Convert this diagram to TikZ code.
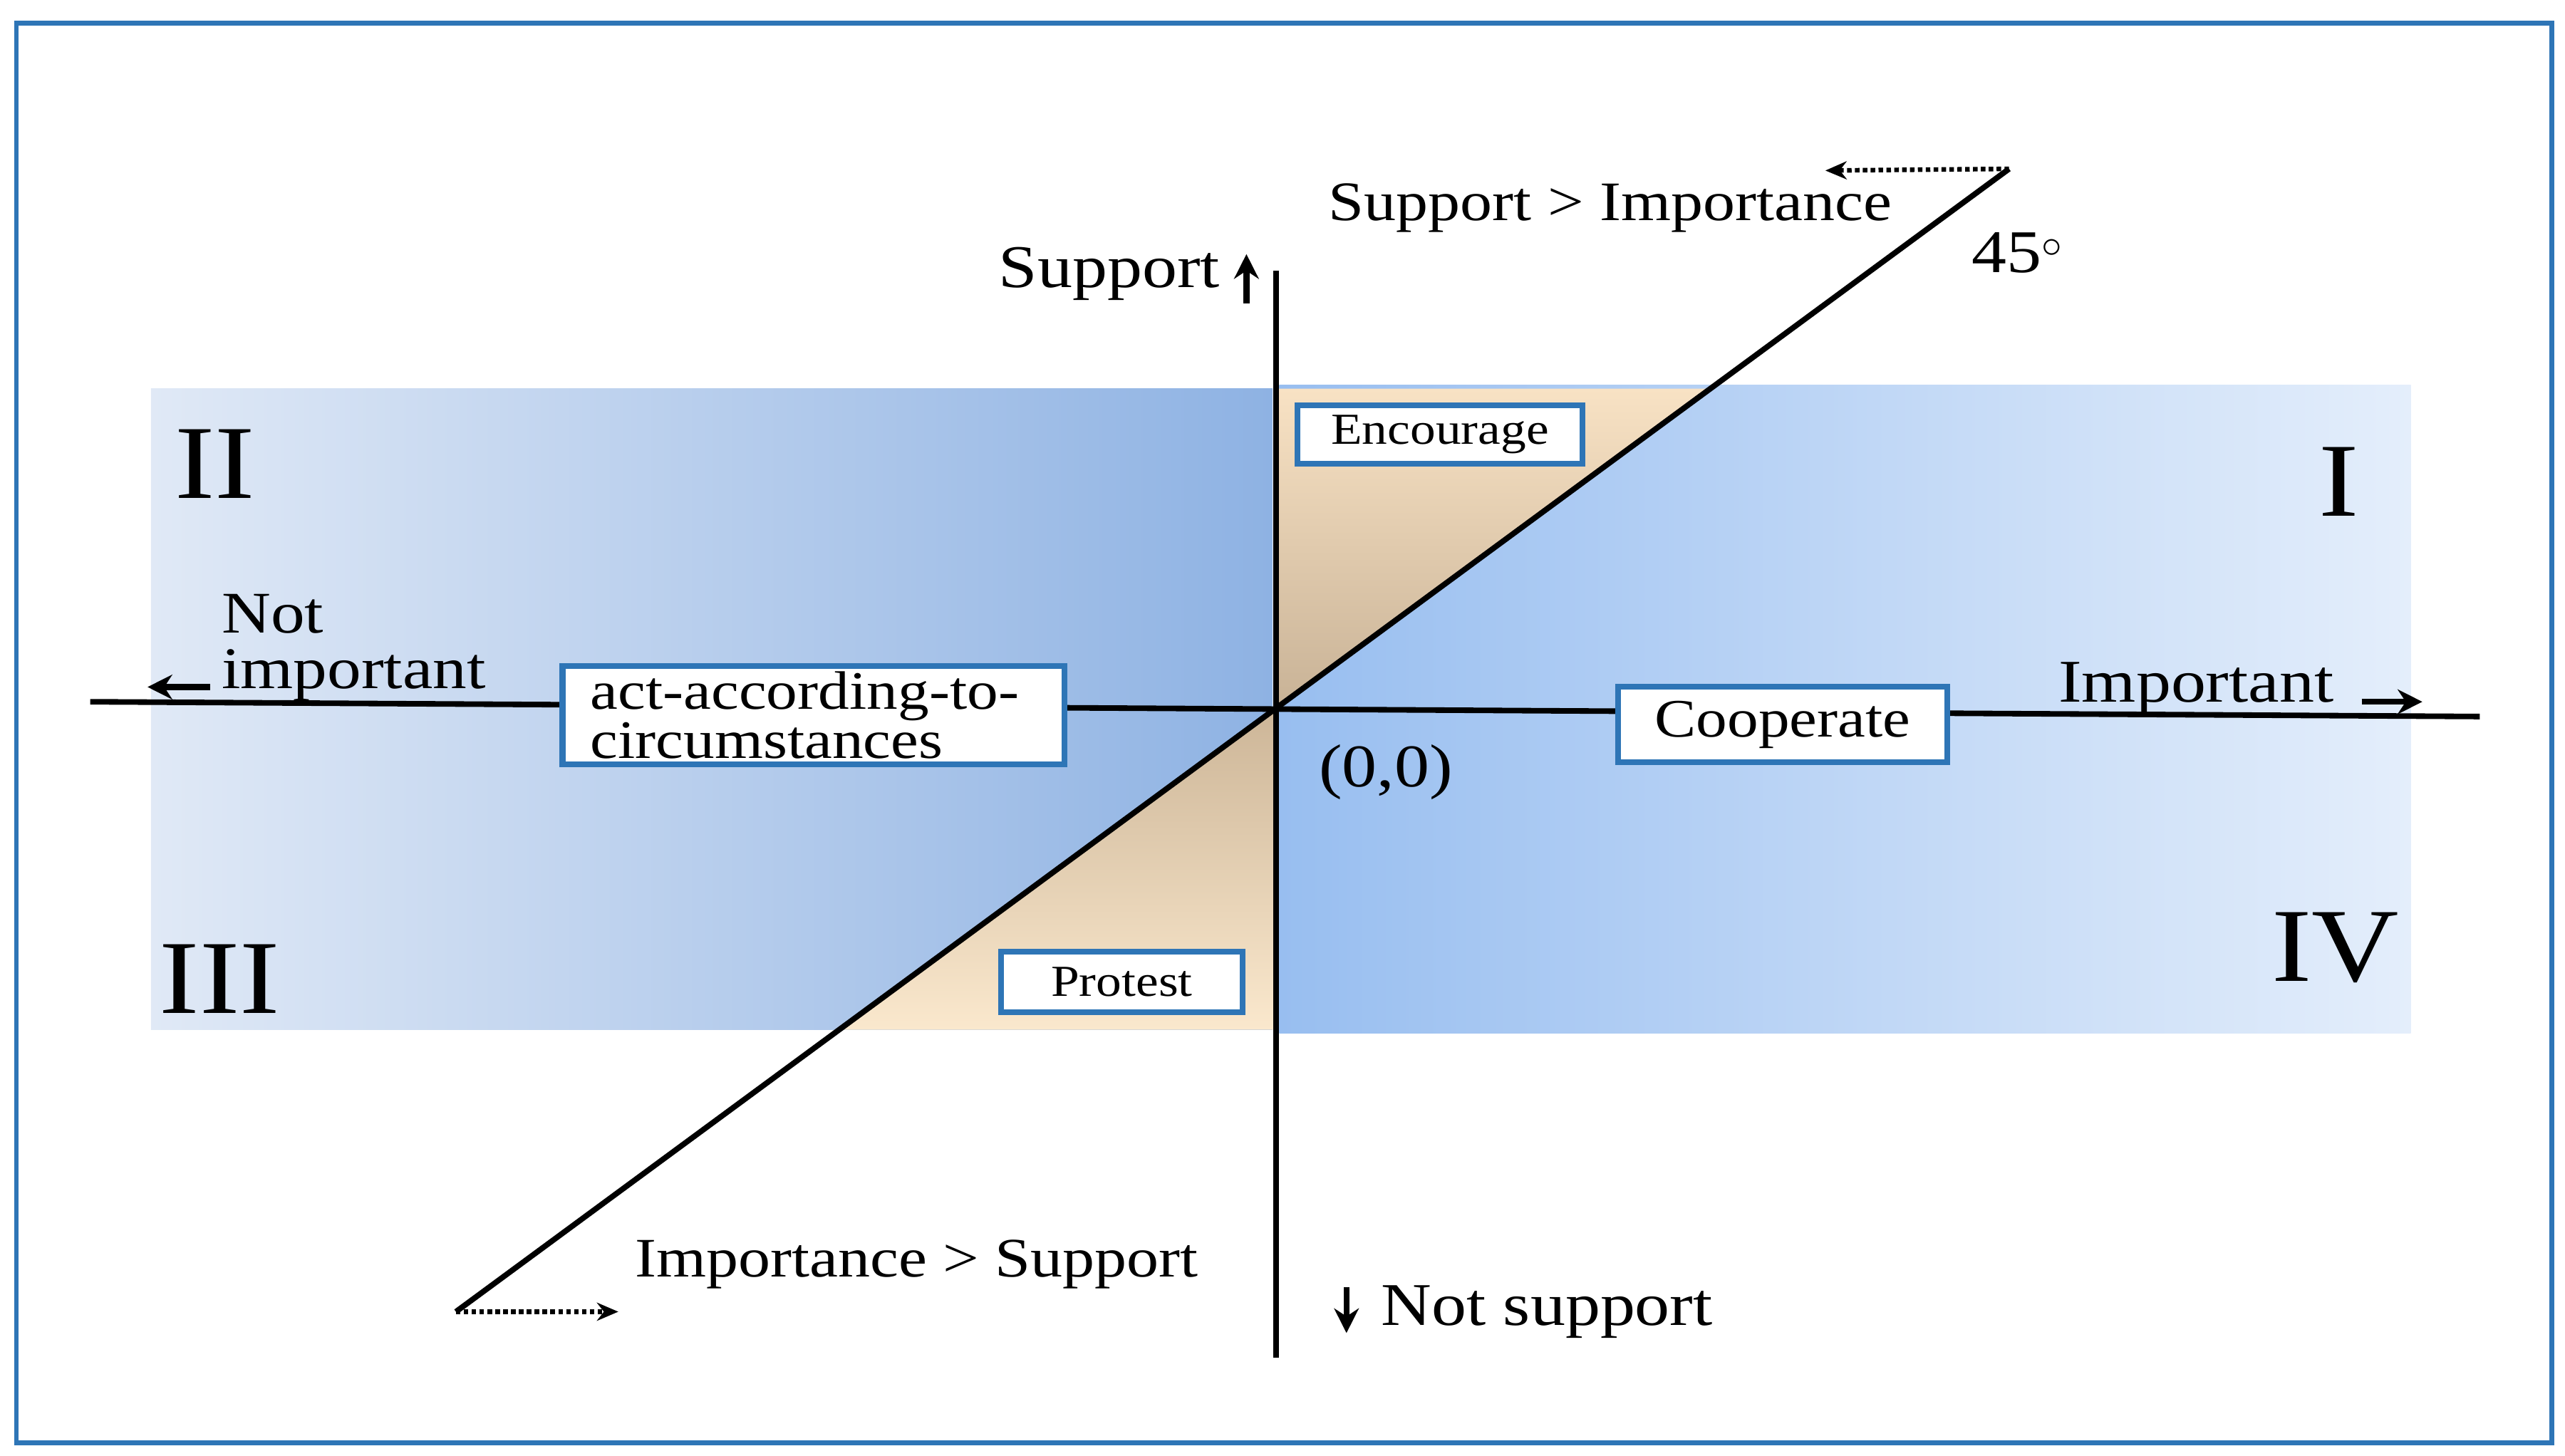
\documentclass[tikz,border=0pt]{standalone}
\usepackage{fontspec}
\setmainfont{Liberation Serif}[FakeStretch=1.15]
\usetikzlibrary{arrows.meta}
\definecolor{bbox}{HTML}{2E75B6}
\tikzset{
  lab/.style={font=\fontsize{37}{37}\selectfont, inner sep=0pt},
  boxn/.style={draw=bbox, line width=3.5pt, fill=white, inner sep=0pt, align=left},
  roman/.style={font=\fontsize{64}{64}\selectfont, inner sep=0pt},
  axis/.style={line width=3.4pt},
  dotarr/.style={line width=2.8pt, dotted, -{Stealth[length=13pt,width=11pt]}},
  sarr/.style={line width=3.6pt, -{Stealth[length=15pt,width=15pt]}}
}
\begin{document}
\begin{tikzpicture}[x=1pt,y=-1pt]
\useasboundingbox (0,0) rectangle (1564,888);
\fill[white] (0,0) rectangle (1564,888);
\draw[bbox, line width=3pt] (10,14) rectangle (1556,880);
% bands
\shade[left color={rgb,255:red,224;green,233;blue,246}, right color={rgb,255:red,142;green,178;blue,227}] (92,237) rectangle (776,628);
\shade[left color={rgb,255:red,152;green,190;blue,240}, right color={rgb,255:red,228;green,238;blue,251}] (780,235) rectangle (1470,630);
% tan triangles
\shade[top color={rgb,255:red,248;green,226;blue,196}, bottom color={rgb,255:red,200;green,178;blue,150}] (778,237) -- (1044,237) -- (778,433) -- cycle;
\shade[bottom color={rgb,255:red,250;green,232;blue,205}, top color={rgb,255:red,205;green,182;blue,152}] (778,433) -- (778,628) -- (513,628) -- cycle;
% axes
\coordinate (O) at (778,433);
\coordinate (dA) at (278,800);
\coordinate (dB) at (1225,103);
\coordinate (hL) at (55,428);
\coordinate (hR) at (1512,437);
\coordinate (vT) at (778,165);
\coordinate (vB) at (778,828);
\draw[axis] (dA) -- (dB);
\draw[axis] (hL) -- (hR);
\draw[axis] (vT) -- (vB);
% small arrows
\coordinate (a1s) at (760,185); \coordinate (a1e) at (760,155);
\draw[sarr] (a1s) -- (a1e);
\coordinate (a2s) at (821,785); \coordinate (a2e) at (821,813);
\draw[sarr] (a2s) -- (a2e);
\coordinate (a3s) at (128,419); \coordinate (a3e) at (90,419);
\draw[sarr] (a3s) -- (a3e);
\coordinate (a4s) at (1440,428); \coordinate (a4e) at (1477,428);
\draw[sarr] (a4s) -- (a4e);
% dotted arrows
\coordinate (d1e) at (1113,104);
\draw[dotarr] (dB) -- (d1e);
\coordinate (d2e) at (377,800);
\draw[dotarr] (dA) -- (d2e);
% boxes
\node[boxn, minimum width=174pt, minimum height=36pt, font=\fontsize{27}{27}\selectfont] (enc) at (878,265) {Encourage};
\node[boxn, minimum width=306pt, minimum height=60pt, font=\fontsize{33}{24}\selectfont, text width=272pt] (act) at (496,436) {act-according-to-\\circumstances};
\node[boxn, minimum width=201pt, minimum height=46pt, font=\fontsize{33}{33}\selectfont] (coop) at (1087,442) {Cooperate};
\node[boxn, minimum width=147pt, minimum height=37pt, font=\fontsize{27}{27}\selectfont] (prot) at (684,599) {Protest};
% labels
\node[lab, anchor=east] (sup) at (744,167) {Support};
\node[lab, anchor=west] (nsup) at (842,800) {Not support};
\node[lab, anchor=west] (imp) at (1255,420) {Important};
\node[lab, anchor=west, align=left, font=\fontsize{36}{34}\selectfont] (nimp) at (135,395) {Not\\important};
\node[lab, anchor=west, font=\fontsize{34}{34}\selectfont] (si) at (810,127) {Support > Importance};
\node[lab, anchor=west, font=\fontsize{34}{34}\selectfont] (is) at (387,771) {Importance > Support};
\node[lab, anchor=west] (deg) at (1202,154) {45$^{\circ}$};
\node[lab, anchor=west] (zero) at (804,471) {(0,0)};
\node[roman] (r2) at (131,283) {II};
\node[roman] (r1) at (1426,294) {I};
\node[roman] (r3) at (134,597) {III};
\node[roman] (r4) at (1424,578) {IV};
\end{tikzpicture}
\end{document}
